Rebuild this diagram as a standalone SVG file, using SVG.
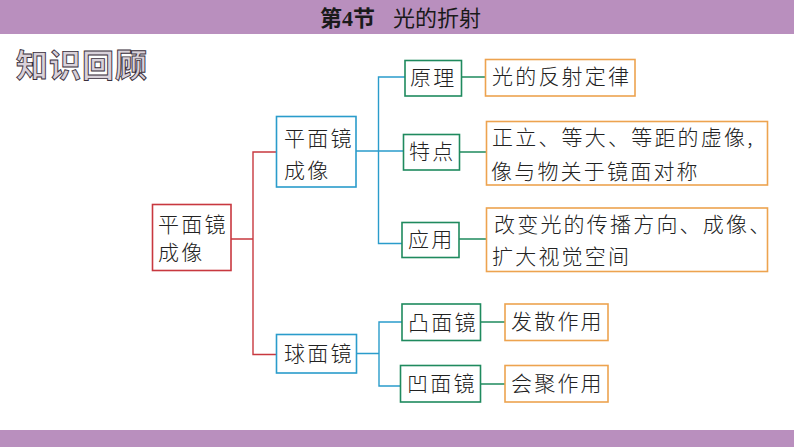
<svg xmlns="http://www.w3.org/2000/svg" width="794" height="447" viewBox="0 0 794 447">
<style>
.b{fill:#fff;stroke-width:1.6}
.red{stroke:#c8383f}.blue{stroke:#2a9ccb}.green{stroke:#1f8a5e}.orange{stroke:#eda34f}
.c{fill:none;stroke-width:1.4}
text{font-family:"Noto Sans CJK SC","Noto Sans CJK JP",sans-serif;font-weight:300;fill:#222;font-size:21px;letter-spacing:2.2px}
.hd{font-family:"Liberation Serif","Noto Sans CJK SC",serif;font-weight:400;font-size:22px;letter-spacing:0;fill:#1a1a1a}
.t{font-weight:700;font-size:32px;letter-spacing:1px;fill:#d9d2da;stroke:#3a2f3c;stroke-width:.9px}
</style>
<rect width="794" height="447" fill="#fff"/>
<rect id="header" width="794" height="34" fill="#b98fbe"/>
<rect id="footer" y="430" width="794" height="17" fill="#b98fbe"/>
<text class="hd" x="320" y="26"><tspan font-weight="700">第4节</tspan><tspan x="393">光的折射</tspan></text>
<text class="t" x="16" y="77">知识回顾</text>
<g id="connectors">
<path class="c red" d="M231 239H253M276 152H253V354.500H276"/>
<path class="c blue" d="M356 151H378.500M405 77H378.500V243.500H402M378.500 151H403"/>
<path class="c blue" d="M356.500 353.500H379M402 322H379V386H400"/>
<path class="c green" d="M461.500 77H485.500M459.500 152H486.500M459 239H486.500M480.500 322H505M480.500 384H505"/>
</g>
<g id="n-root"><rect class="b red" x="152.500" y="204.500" width="78.500" height="66"/><text x="158" y="232">平面镜</text><text x="158" y="260">成像</text></g>
<g id="n-plane"><rect class="b blue" x="276.500" y="116.500" width="79.500" height="70.500"/><text x="284" y="146">平面镜</text><text x="284" y="178">成像</text></g>
<g id="n-sphere"><rect class="b blue" x="276.500" y="334.500" width="80" height="38.500"/><text x="284" y="361">球面镜</text></g>
<g id="n-yuanli"><rect class="b green" x="405" y="60.500" width="56.500" height="35.500"/><text x="410" y="85">原理</text></g>
<g id="n-tedian"><rect class="b green" x="403.500" y="134.500" width="56" height="35.500"/><text x="409" y="159">特点</text></g>
<g id="n-yingyong"><rect class="b green" x="402" y="222.500" width="57" height="35"/><text x="408" y="247">应用</text></g>
<g id="n-tu"><rect class="b green" x="402" y="304" width="78.500" height="36.500"/><text x="408" y="330">凸面镜</text></g>
<g id="n-ao"><rect class="b green" x="400.500" y="365.500" width="80" height="36.500"/><text x="407" y="391">凹面镜</text></g>
<g id="n-law"><rect class="b orange" x="485.500" y="59.500" width="149.500" height="36.500"/><text x="492" y="84">光的反射定律</text></g>
<g id="n-trait"><rect class="b orange" x="486.500" y="121.500" width="281" height="63.500"/><text x="492" y="145">正立、等大、等距的虚像,</text><text x="491" y="179">像与物关于镜面对称</text></g>
<g id="n-use"><rect class="b orange" x="486.500" y="208" width="281" height="63.500"/><text x="494" y="232">改变光的传播方向、成像、</text><text x="492" y="264">扩大视觉空间</text></g>
<g id="n-diverge"><rect class="b orange" x="505" y="304" width="103" height="36.500"/><text x="511" y="329">发散作用</text></g>
<g id="n-converge"><rect class="b orange" x="505" y="365.500" width="103" height="36.500"/><text x="511" y="391">会聚作用</text></g>
</svg>
